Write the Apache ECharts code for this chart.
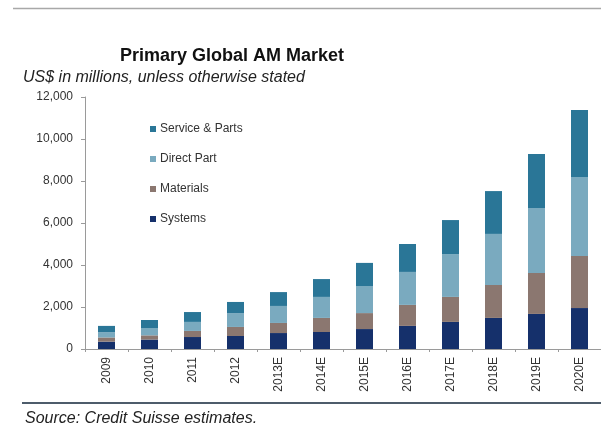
<!DOCTYPE html>
<html>
<head>
<meta charset="utf-8">
<script src="https://cdn.jsdelivr.net/npm/echarts@6/dist/echarts.min.js"></script>
<style>
  html, body { margin: 0; padding: 0; background: #fff; }
  #chart { width: 601px; height: 439px; }
</style>
</head>
<body>
<div id="chart"></div>
<script>
// Primary global additive manufacturing market, US$ millions
const years = ['2009', '2010', '2011', '2012', '2013E', '2014E', '2015E', '2016E', '2017E', '2018E', '2019E', '2020E'];
const systems      = [350, 450, 570, 620, 760, 810, 950, 1100, 1290, 1480, 1670, 1950];
const materials    = [200, 200, 290, 430, 480, 670, 760, 1000, 1190, 1570, 1950, 2480];
const directPart   = [250, 350, 430, 660, 810, 1000, 1290, 1570, 2040, 2430, 3090, 3760];
const serviceParts = [300, 380, 470, 530, 660, 850, 1100, 1330, 1620, 2040, 2580, 3190];
const yTicks = [0, 2000, 4000, 6000, 8000, 10000, 12000];

const FONT = '"Liberation Sans", Arial, sans-serif';

const seriesDefs = [
  { name: 'Systems', data: systems, color: '#15306b' },
  { name: 'Materials', data: materials, color: '#8b7770' },
  { name: 'Direct Part', data: directPart, color: '#7aaabf' },
  { name: 'Service & Parts', data: serviceParts, color: '#2a7697' }
];

const chart = echarts.init(document.getElementById('chart'), null, { renderer: 'canvas' });

chart.setOption({
  animation: false,
  backgroundColor: '#ffffff',
  textStyle: { fontFamily: FONT },
  grid: { left: 85, right: -6, top: 97, bottom: 90, containLabel: false },
  legend: {
    orient: 'vertical',
    left: 145,
    top: 118,
    itemWidth: 6,
    itemHeight: 6,
    itemGap: 18,
    icon: 'rect',
    data: ['Service & Parts', 'Direct Part', 'Materials', 'Systems'],
    textStyle: { fontFamily: FONT, fontSize: 12, color: '#333', padding: [0, 0, 0, -1] }
  },
  xAxis: {
    type: 'category',
    data: years,
    axisLine: { show: true, lineStyle: { color: '#9a9a9a', width: 1 } },
    axisTick: { show: true, length: 3, lineStyle: { color: '#9a9a9a' } },
    axisLabel: { rotate: 90, fontSize: 12, color: '#333', margin: 8, fontFamily: FONT }
  },
  yAxis: {
    type: 'value',
    min: yTicks[0],
    max: yTicks[yTicks.length - 1],
    interval: 2000,
    axisLine: { show: true, lineStyle: { color: '#9a9a9a', width: 1 } },
    axisTick: { show: true, length: 4, inside: false, lineStyle: { color: '#9a9a9a' } },
    splitLine: { show: false },
    axisLabel: {
      fontSize: 12,
      color: '#333',
      margin: 12,
      fontFamily: FONT,
      formatter: v => v.toLocaleString('en-US')
    }
  },
  series: seriesDefs.map(s => ({
    name: s.name,
    type: 'bar',
    stack: 'total',
    barWidth: 17,
    data: s.data,
    itemStyle: { color: s.color }
  })),
  graphic: [
    {
      type: 'line',
      shape: { x1: 13, y1: 8.5, x2: 601, y2: 8.5 },
      style: { stroke: '#a8a8a8', lineWidth: 1.5 }
    },
    {
      type: 'text',
      left: 120,
      top: 47,
      style: { text: 'Primary Global AM Market', font: 'bold 18px ' + FONT, fill: '#111' }
    },
    {
      type: 'text',
      left: 23,
      top: 70,
      style: { text: 'US$ in millions, unless otherwise stated', font: 'italic 16px ' + FONT, fill: '#222' }
    },
    {
      type: 'line',
      shape: { x1: 22, y1: 403, x2: 601, y2: 403 },
      style: { stroke: '#4d5c6b', lineWidth: 2 }
    },
    {
      type: 'text',
      left: 25,
      top: 411,
      style: { text: 'Source: Credit Suisse estimates.', font: 'italic 16px ' + FONT, fill: '#222' }
    }
  ]
});
</script>
</body>
</html>
